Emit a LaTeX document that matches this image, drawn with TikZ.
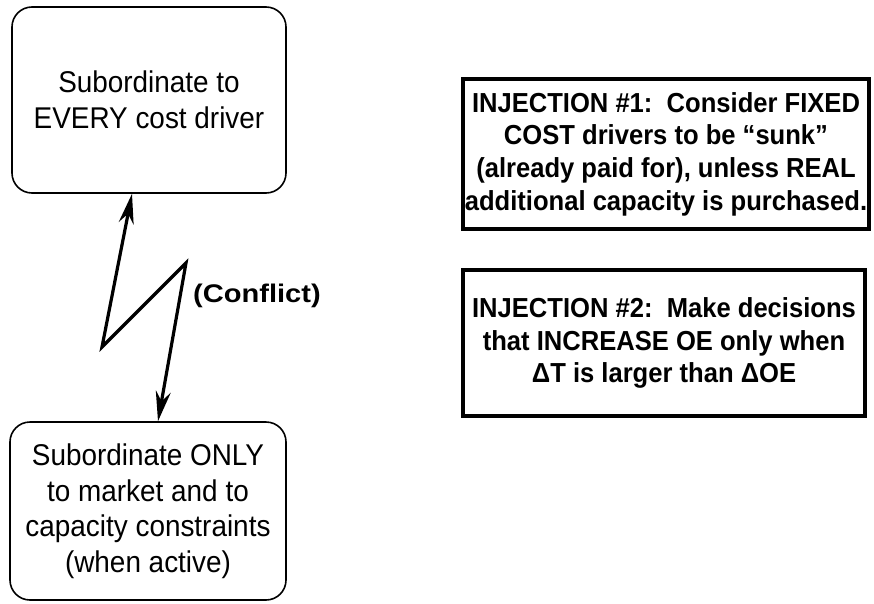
\documentclass[tikz,border=0pt]{standalone}
\usepackage{fontspec}
\setmainfont{Liberation Sans}[FakeStretch=0.93]
\newfontfamily\heavy{Liberation Sans Bold}[FakeStretch=1.14]
\usetikzlibrary{arrows.meta}

\begin{document}
\begin{tikzpicture}[x=1pt,y=-1pt,
  side/.style={draw,line width=1.6pt,rounded corners=20pt,align=center,
    inner sep=0pt,font=\fontsize{30}{35.5}\selectfont},
  inj/.style={draw,line width=3.5pt,align=center,inner sep=0pt,
    font=\bfseries\fontsize{27.5}{32.6}\selectfont},
  zig/.style={line width=3.2pt,line join=miter,{Stealth[length=30pt,width=15pt]}-{Stealth[length=30pt,width=15pt]}}]
\useasboundingbox (0,0) rectangle (874,604);
\node[side,minimum width=274pt,minimum height=186pt] (every) at (149,100)
  {Subordinate to\\EVERY cost driver};
\node[side,minimum width=276pt,minimum height=178pt] (only) at (148,511)
  {Subordinate ONLY\\to market and to\\capacity constraints\\(when active)};
\node[inj,minimum width=406pt,minimum height=150pt] (inj1) at (666,154)
  {INJECTION \#1:\ \ Consider FIXED\\COST drivers to be ``sunk''\\(already paid for), unless REAL\\additional capacity is purchased.};
\node[inj,minimum width=402pt,minimum height=146pt] (inj2) at (664,343)
  {INJECTION \#2:\ \ Make decisions\\that INCREASE OE only when\\ΔT is larger than ΔOE};
% lightning bolt between the two sides
\coordinate (k1) at (102,347);
\coordinate (k2) at (186,263);
\draw[zig] ([xshift=-17pt]every.south) -- (k1) -- (k2) -- ([xshift=10pt]only.north);
\node[font=\heavy\fontsize{25.5}{28}\selectfont,anchor=west,inner sep=0pt] (conf) at (193,296) {(Conflict)};
\end{tikzpicture}
\end{document}
